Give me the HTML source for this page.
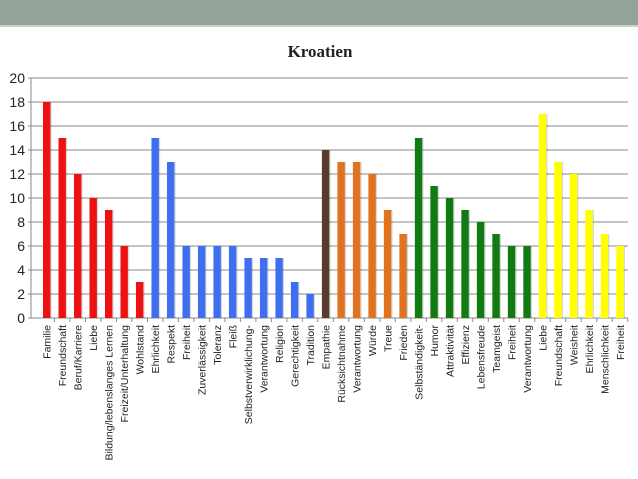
<!DOCTYPE html>
<html><head><meta charset="utf-8"><style>
body{margin:0;width:638px;height:479px;background:#fff;overflow:hidden;font-family:"Liberation Sans",sans-serif}
</style></head><body>
<div style="position:absolute;left:0;top:0;width:638px;height:25px;background:#93a398;border-bottom:2px solid #c9d1cb"></div>
<svg id="chart" width="638" height="479" style="position:absolute;left:0;top:0">
<text x="320" y="57" text-anchor="middle" font-family="Liberation Serif, serif" font-weight="bold" font-size="17" fill="#222">Kroatien</text>
</svg>
<script>
const categories=["Familie","Freundschaft","Beruf/Karriere","Liebe","Bildung/lebenslanges Lernen","Freizeit/Unterhaltung","Wohlstand","Ehrlichkeit","Respekt","Freiheit","Zuverlässigkeit","Toleranz","Fleiß","Selbstverwirklichung-","Verantwortung","Religion","Gerechtigkeit","Tradition","Empathie","Rücksichtnahme","Verantwortung","Würde","Treue","Frieden","Selbständigkeit-","Humor","Attraktivität","Effizienz","Lebensfreude","Teamgeist","Freiheit","Verantwortung","Liebe","Freundschaft","Weisheit","Ehrlichkeit","Menschlichkeit","Freiheit"];
const values=[18,15,12,10,9,6,3,15,13,6,6,6,6,5,5,5,3,2,14,13,13,12,9,7,15,11,10,9,8,7,6,6,17,13,12,9,7,6];
const groups=["r","r","r","r","r","r","r","b","b","b","b","b","b","b","b","b","b","b","n","o","o","o","o","o","g","g","g","g","g","g","g","g","y","y","y","y","y","y"];
const yTicks=[0,2,4,6,8,10,12,14,16,18,20];
const colors={r:"#ee1111",b:"#3d6ff0",n:"#5a3a2c",o:"#e0731f",g:"#127a12",y:"#ffff00"};
const svg=document.getElementById('chart');const NS="http://www.w3.org/2000/svg";
const y0=318,y1=78,xL=31,xR=628;
const yS=v=>y0-(y0-y1)*v/20;
const xS=i=>46.7+i*(620-46.7)/37;
function mk(t,a){const e=document.createElementNS(NS,t);for(const k in a)e.setAttribute(k,a[k]);svg.appendChild(e);return e;}
yTicks.forEach(t=>{
 const l=mk('line',{x1:xL-3,x2:xR,y1:yS(t),y2:yS(t),stroke:"#8a8a8a","stroke-width":1});
 
 
 const tx=mk('text',{x:25,y:yS(t)+5,"text-anchor":"end","font-size":14,fill:"#222"});
 tx.textContent=t;
 
 
});
const ax=mk('line',{x1:xL,x2:xL,y1:y1,y2:y0,stroke:"#8a8a8a"});


values.forEach((v,i)=>{
 const cx=xS(i);
 const sh=mk('rect',{x:cx-3,y:yS(v),width:8,height:y0-yS(v),fill:"#000","fill-opacity":0.15});
 
 
 const b=mk('rect',{x:cx-3.7,y:yS(v),width:7.4,height:y0-yS(v),fill:colors[groups[i]]});
 
 
 const tk=mk('line',{x1:cx+7.75,x2:cx+7.75,y1:y0,y2:y0+4,stroke:"#8a8a8a"});
 
 
 const lb=mk('text',{x:0,y:0,"text-anchor":"end","font-size":10.5,fill:"#222",transform:`translate(${cx+4},325) rotate(-90)`});
 lb.textContent=categories[i];
 
 
});
</script>
</body></html>
